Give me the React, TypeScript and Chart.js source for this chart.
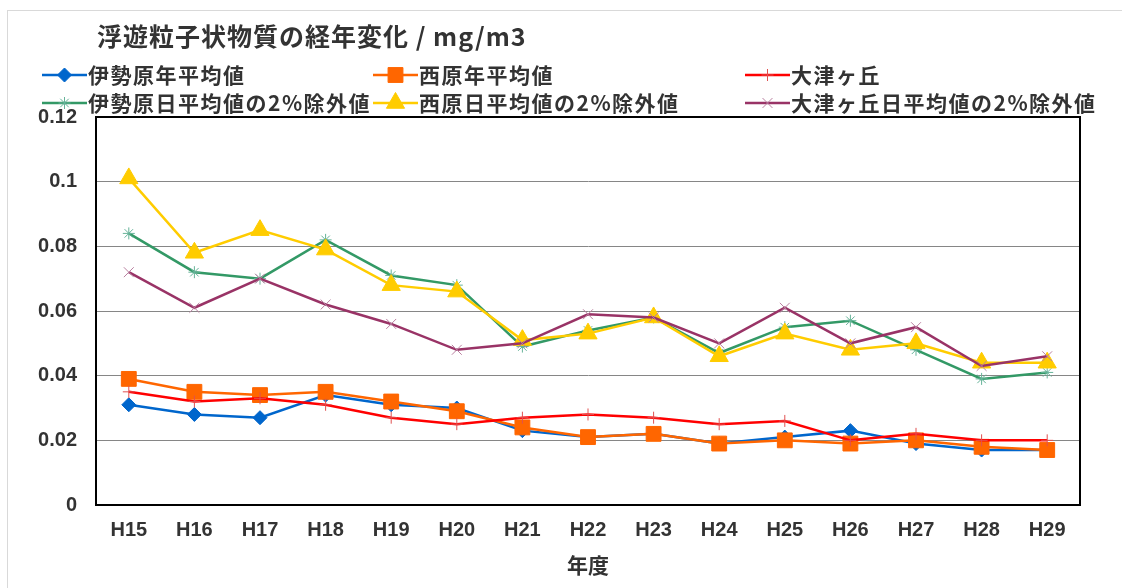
import React, { useEffect, useRef } from 'react';
import { Chart, registerables } from 'chart.js';

Chart.register(...registerables);

const categories = ['H15', 'H16', 'H17', 'H18', 'H19', 'H20', 'H21', 'H22', 'H23', 'H24', 'H25', 'H26', 'H27', 'H28', 'H29'];

const iseharaAnnual = [0.031, 0.028, 0.027, 0.034, 0.031, 0.030, 0.023, 0.021, 0.022, 0.019, 0.021, 0.023, 0.019, 0.017, 0.017];
const nishiharaAnnual = [0.039, 0.035, 0.034, 0.035, 0.032, 0.029, 0.024, 0.021, 0.022, 0.019, 0.020, 0.019, 0.020, 0.018, 0.017];
const otsugaoka = [0.035, 0.032, 0.033, 0.031, 0.027, 0.025, 0.027, 0.028, 0.027, 0.025, 0.026, 0.020, 0.022, 0.020, 0.020];
const isehara2pct = [0.084, 0.072, 0.070, 0.082, 0.071, 0.068, 0.049, 0.054, 0.058, 0.047, 0.055, 0.057, 0.048, 0.039, 0.041];
const nishihara2pct = [0.101, 0.078, 0.085, 0.079, 0.068, 0.066, 0.051, 0.053, 0.058, 0.046, 0.053, 0.048, 0.050, 0.044, 0.044];
const otsugaoka2pct = [0.072, 0.061, 0.070, 0.062, 0.056, 0.048, 0.050, 0.059, 0.058, 0.050, 0.061, 0.050, 0.055, 0.043, 0.046];

const seriesNames = [
  '伊勢原年平均値',
  '西原年平均値',
  '大津ヶ丘',
  '伊勢原日平均値の2%除外値',
  '西原日平均値の2%除外値',
  '大津ヶ丘日平均値の2%除外値',
];

const titleText = '浮遊粒子状物質の経年変化 / mg/m3';
const xAxisTitle = '年度';
const yMin = 0;
const yMax = 0.12;
const yStep = 0.02;

const CJK = "'Noto Sans CJK JP', 'Noto Sans', sans-serif";
const NUM = "'Liberation Sans Narrow', 'Liberation Sans', Arial, sans-serif";
const TEXT_COLOR = '#333333';

function drawMarker(ctx: CanvasRenderingContext2D, style: string, x: number, y: number, r: number, fill: string, stroke: string, lw: number) {
  ctx.save();
  ctx.fillStyle = fill;
  ctx.strokeStyle = stroke;
  ctx.lineWidth = lw;
  ctx.beginPath();
  if (style === 'rectRot') {
    ctx.moveTo(x, y - r); ctx.lineTo(x + r, y); ctx.lineTo(x, y + r); ctx.lineTo(x - r, y); ctx.closePath();
    ctx.fill(); ctx.stroke();
  } else if (style === 'rect') {
    const s = r * Math.SQRT1_2;
    ctx.rect(x - s, y - s, 2 * s, 2 * s);
    ctx.fill(); ctx.stroke();
  } else if (style === 'triangle') {
    const a = (Math.PI * 2) / 3;
    ctx.moveTo(x, y - r);
    ctx.lineTo(x + Math.sin(a) * r, y - Math.cos(a) * r);
    ctx.lineTo(x - Math.sin(a) * r, y - Math.cos(a) * r);
    ctx.closePath();
    ctx.fill(); ctx.stroke();
  } else if (style === 'cross') {
    ctx.moveTo(x, y - r); ctx.lineTo(x, y + r); ctx.moveTo(x - r, y); ctx.lineTo(x + r, y); ctx.stroke();
  } else if (style === 'crossRot') {
    const d = r * Math.SQRT1_2;
    ctx.moveTo(x - d, y - d); ctx.lineTo(x + d, y + d); ctx.moveTo(x + d, y - d); ctx.lineTo(x - d, y + d); ctx.stroke();
  } else if (style === 'star') {
    const d = r * Math.SQRT1_2;
    ctx.moveTo(x, y - r); ctx.lineTo(x, y + r); ctx.moveTo(x - r, y); ctx.lineTo(x + r, y);
    ctx.moveTo(x - d, y - d); ctx.lineTo(x + d, y + d); ctx.moveTo(x + d, y - d); ctx.lineTo(x - d, y + d); ctx.stroke();
  }
  ctx.restore();
}

const decorPlugin = {
  id: 'decor',
  beforeDraw(chart: any) {
    const ctx = chart.ctx as CanvasRenderingContext2D;
    ctx.save();
    ctx.fillStyle = '#ffffff';
    ctx.fillRect(0, 0, chart.width, chart.height);
    ctx.strokeStyle = '#d9d9d9';
    ctx.lineWidth = 1;
    ctx.strokeRect(7.5, 10.5, chart.width + 20, chart.height + 20);
    ctx.restore();
  },
  beforeDatasetsDraw(chart: any) {
    const ctx = chart.ctx as CanvasRenderingContext2D;
    const a = chart.chartArea;
    ctx.save();
    ctx.strokeStyle = '#000000';
    ctx.lineWidth = 2;
    ctx.beginPath();
    ctx.moveTo(a.left, a.top);
    ctx.lineTo(a.right, a.top);
    ctx.lineTo(a.right, a.bottom);
    ctx.stroke();
    ctx.restore();
  },
  afterDraw(chart: any) {
    const ctx = chart.ctx as any;
    ctx.save();
    // title
    ctx.fillStyle = TEXT_COLOR;
    ctx.font = `bold 25px ${CJK}`;
    ctx.letterSpacing = '1px';
    ctx.textAlign = 'left';
    ctx.textBaseline = 'middle';
    ctx.fillText(titleText, 97, 36);
    // legend
    const cols = [42, 373, 745];
    const rows = [75, 103];
    chart.data.datasets.forEach((ds: any, i: number) => {
      const x0 = cols[i % 3];
      const y = rows[Math.floor(i / 3)];
      ctx.save();
      ctx.letterSpacing = '0px';
      ctx.strokeStyle = ds.borderColor;
      ctx.lineWidth = 2.5;
      ctx.beginPath();
      ctx.moveTo(x0, y);
      ctx.lineTo(x0 + 45, y);
      ctx.stroke();
      drawMarker(ctx, ds.pointStyle, x0 + 22.5, y, ds.pointRadius, ds.pointBackgroundColor, ds.pointBorderColor, ds.pointBorderWidth);
      ctx.fillStyle = TEXT_COLOR;
      ctx.font = `bold 21px ${CJK}`;
      ctx.letterSpacing = '1.5px';
      ctx.textAlign = 'left';
      ctx.textBaseline = 'middle';
      ctx.fillText(ds.label, x0 + 46, y);
      ctx.restore();
    });
    ctx.restore();
  },
};

export default function App() {
  const canvasRef = useRef<HTMLCanvasElement | null>(null);

  useEffect(() => {
    const canvas = canvasRef.current;
    if (!canvas) return;
    const mk = (label: string, data: number[], color: string, style: string, radius: number, bg: string, border: string, bw: number) => ({
      label,
      data,
      borderColor: color,
      backgroundColor: color,
      borderWidth: 2.5,
      pointStyle: style,
      pointRadius: radius,
      pointBackgroundColor: bg,
      pointBorderColor: border,
      pointBorderWidth: bw,
      tension: 0,
      fill: false,
    });
    const datasets: any[] = [
      mk(seriesNames[0], iseharaAnnual, '#0066CC', 'rectRot', 7, '#0066CC', '#0066CC', 1),
      mk(seriesNames[1], nishiharaAnnual, '#FF6600', 'rect', 10.5, '#FF6600', '#FF6600', 1),
      mk(seriesNames[2], otsugaoka, '#FF0000', 'cross', 6, '#FF0000', '#E05050', 1),
      mk(seriesNames[3], isehara2pct, '#339966', 'star', 6, '#66B399', '#66B399', 1),
      mk(seriesNames[4], nishihara2pct, '#FFCC00', 'triangle', 10.5, '#FFCC00', '#FFCC00', 1),
      mk(seriesNames[5], otsugaoka2pct, '#993366', 'crossRot', 7, '#B980A0', '#B980A0', 1),
    ];
    datasets.forEach((d, i) => { d.order = datasets.length - i; });

    const chart = new Chart(canvas, {
      type: 'line',
      data: { labels: categories, datasets },
      options: {
        animation: false,
        responsive: false,
        devicePixelRatio: 1,
        layout: { padding: { top: 117, right: 42, left: 0, bottom: 0 } },
        plugins: {
          legend: { display: false },
          title: { display: false },
          tooltip: { enabled: false },
        },
        scales: {
          x: {
            offset: true,
            grid: { display: false, drawTicks: false },
            border: { display: true, color: '#000000', width: 2 },
            ticks: {
              color: TEXT_COLOR,
              font: { family: NUM, size: 20, weight: 'bold' },
              padding: 13,
              maxRotation: 0,
              autoSkip: false,
            },
            title: {
              display: true,
              text: xAxisTitle,
              color: TEXT_COLOR,
              font: { family: CJK, size: 21, weight: 'bold' },
              padding: { top: 0, bottom: 10 },
            },
            afterFit: (scale: any) => { scale.height = 83; },
          },
          y: {
            min: yMin,
            max: yMax,
            grid: { display: true, color: '#868686', lineWidth: 1, drawTicks: false },
            border: { display: true, color: '#000000', width: 2 },
            ticks: {
              stepSize: yStep,
              color: TEXT_COLOR,
              font: { family: NUM, size: 20, weight: 'bold' },
              padding: 19,
              callback: (v: any) => String(Number(Number(v).toFixed(2))),
            },
            afterFit: (scale: any) => { scale.width = 96; },
          },
        },
      } as any,
      plugins: [decorPlugin],
    });
    return () => chart.destroy();
  }, []);

  return (
    <div style={{ position: 'fixed', left: 0, top: 0, width: 1122, height: 588, background: '#fff' }}>
      <canvas ref={canvasRef} width={1122} height={588} style={{ width: 1122, height: 588, display: 'block' }} />
    </div>
  );
}
